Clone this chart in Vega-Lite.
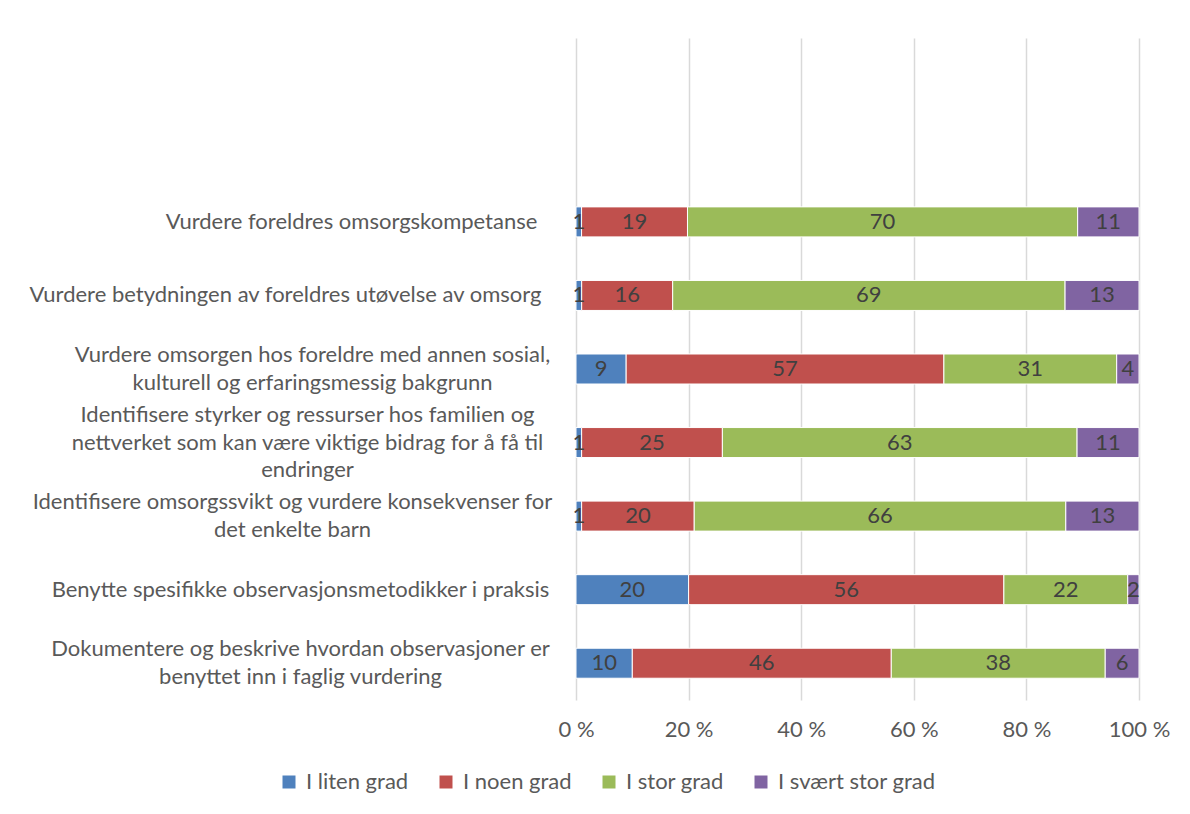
{
  "$schema": "https://vega.github.io/schema/vega-lite/v6.json",
  "autosize": {"type": "none"},
  "width": 563,
  "height": 662,
  "padding": {"left": 576, "top": 38, "right": 51, "bottom": 114},
  "background": "white",
  "config": {
    "view": {"stroke": null},
    "font": "Lato"
  },
  "data": {
    "values": [
      {"cat": "Vurdere foreldres omsorgskompetanse", "series": "I liten grad", "k": 0, "value": 1},
      {"cat": "Vurdere foreldres omsorgskompetanse", "series": "I noen grad", "k": 1, "value": 19},
      {"cat": "Vurdere foreldres omsorgskompetanse", "series": "I stor grad", "k": 2, "value": 70},
      {"cat": "Vurdere foreldres omsorgskompetanse", "series": "I svært stor grad", "k": 3, "value": 11},
      {"cat": "Vurdere betydningen av foreldres utøvelse av omsorg", "series": "I liten grad", "k": 0, "value": 1},
      {"cat": "Vurdere betydningen av foreldres utøvelse av omsorg", "series": "I noen grad", "k": 1, "value": 16},
      {"cat": "Vurdere betydningen av foreldres utøvelse av omsorg", "series": "I stor grad", "k": 2, "value": 69},
      {"cat": "Vurdere betydningen av foreldres utøvelse av omsorg", "series": "I svært stor grad", "k": 3, "value": 13},
      {"cat": "Vurdere omsorgen hos foreldre med annen sosial,|kulturell og erfaringsmessig bakgrunn", "series": "I liten grad", "k": 0, "value": 9},
      {"cat": "Vurdere omsorgen hos foreldre med annen sosial,|kulturell og erfaringsmessig bakgrunn", "series": "I noen grad", "k": 1, "value": 57},
      {"cat": "Vurdere omsorgen hos foreldre med annen sosial,|kulturell og erfaringsmessig bakgrunn", "series": "I stor grad", "k": 2, "value": 31},
      {"cat": "Vurdere omsorgen hos foreldre med annen sosial,|kulturell og erfaringsmessig bakgrunn", "series": "I svært stor grad", "k": 3, "value": 4},
      {"cat": "Identifisere styrker og ressurser hos familien og|nettverket som kan være viktige bidrag for å få til|endringer", "series": "I liten grad", "k": 0, "value": 1},
      {"cat": "Identifisere styrker og ressurser hos familien og|nettverket som kan være viktige bidrag for å få til|endringer", "series": "I noen grad", "k": 1, "value": 25},
      {"cat": "Identifisere styrker og ressurser hos familien og|nettverket som kan være viktige bidrag for å få til|endringer", "series": "I stor grad", "k": 2, "value": 63},
      {"cat": "Identifisere styrker og ressurser hos familien og|nettverket som kan være viktige bidrag for å få til|endringer", "series": "I svært stor grad", "k": 3, "value": 11},
      {"cat": "Identifisere omsorgssvikt og vurdere konsekvenser for|det enkelte barn", "series": "I liten grad", "k": 0, "value": 1},
      {"cat": "Identifisere omsorgssvikt og vurdere konsekvenser for|det enkelte barn", "series": "I noen grad", "k": 1, "value": 20},
      {"cat": "Identifisere omsorgssvikt og vurdere konsekvenser for|det enkelte barn", "series": "I stor grad", "k": 2, "value": 66},
      {"cat": "Identifisere omsorgssvikt og vurdere konsekvenser for|det enkelte barn", "series": "I svært stor grad", "k": 3, "value": 13},
      {"cat": "Benytte spesifikke observasjonsmetodikker i praksis", "series": "I liten grad", "k": 0, "value": 20},
      {"cat": "Benytte spesifikke observasjonsmetodikker i praksis", "series": "I noen grad", "k": 1, "value": 56},
      {"cat": "Benytte spesifikke observasjonsmetodikker i praksis", "series": "I stor grad", "k": 2, "value": 22},
      {"cat": "Benytte spesifikke observasjonsmetodikker i praksis", "series": "I svært stor grad", "k": 3, "value": 2},
      {"cat": "Dokumentere og beskrive hvordan observasjoner er|benyttet inn i faglig vurdering", "series": "I liten grad", "k": 0, "value": 10},
      {"cat": "Dokumentere og beskrive hvordan observasjoner er|benyttet inn i faglig vurdering", "series": "I noen grad", "k": 1, "value": 46},
      {"cat": "Dokumentere og beskrive hvordan observasjoner er|benyttet inn i faglig vurdering", "series": "I stor grad", "k": 2, "value": 38},
      {"cat": "Dokumentere og beskrive hvordan observasjoner er|benyttet inn i faglig vurdering", "series": "I svært stor grad", "k": 3, "value": 6}
    ]
  },
  "encoding": {
    "y": {
      "field": "cat",
      "type": "nominal",
      "title": null,
      "scale": {
        "domain": [
          "_a", "_b",
          "Vurdere foreldres omsorgskompetanse",
          "Vurdere betydningen av foreldres utøvelse av omsorg",
          "Vurdere omsorgen hos foreldre med annen sosial,|kulturell og erfaringsmessig bakgrunn",
          "Identifisere styrker og ressurser hos familien og|nettverket som kan være viktige bidrag for å få til|endringer",
          "Identifisere omsorgssvikt og vurdere konsekvenser for|det enkelte barn",
          "Benytte spesifikke observasjonsmetodikker i praksis",
          "Dokumentere og beskrive hvordan observasjoner er|benyttet inn i faglig vurdering"
        ],
        "paddingInner": 0,
        "paddingOuter": 0
      },
      "axis": {
        "domain": false,
        "ticks": false,
        "labelPadding": {"signal": "indexof(datum.value, 'Vurdere foreldres') == 0 ? 225 : indexof(datum.value, 'Vurdere betydningen') == 0 ? 291 : indexof(datum.value, 'Vurdere omsorgen') == 0 ? 264 : indexof(datum.value, 'Identifisere styrker') == 0 ? 269 : indexof(datum.value, 'Identifisere omsorgssvikt') == 0 ? 284 : 276"},
        "labelOffset": {"signal": "-(length(split(datum.value, '|')) - 1) * 13.75"},
        "labelFontSize": 22,
        "labelColor": "#595959",
        "labelLineHeight": 27.5,
        "labelLimit": 0,
        "labelAlign": "center",
        "labelBaseline": "middle",
        "labelExpr": "indexof(datum.label, '_') == 0 ? '' : split(datum.label, '|')"
      }
    }
  },
  "layer": [
    {
      "mark": {"type": "bar", "height": 30, "stroke": "white", "strokeWidth": 1},
      "encoding": {
        "x": {
          "field": "value",
          "type": "quantitative",
          "stack": "normalize",
          "title": null,
          "scale": {"domain": [0, 1], "nice": false},
          "axis": {
            "values": [0, 0.2, 0.4, 0.6, 0.8, 1],
            "domain": false,
            "ticks": false,
            "grid": true,
            "gridColor": "#d9d9d9",
            "gridWidth": 1.5,
            "labelFlush": false,
            "labelPadding": 19,
            "labelFontSize": 22,
            "labelColor": "#595959",
            "labelExpr": "format(datum.value * 100, 'd') + ' %'"
          }
        },
        "color": {
          "field": "series",
          "type": "nominal",
          "scale": {
            "domain": ["I liten grad", "I noen grad", "I stor grad", "I svært stor grad"],
            "range": ["#4F81BD", "#C0504D", "#9BBB59", "#8064A2"]
          },
          "legend": {
            "title": null,
            "orient": "none",
            "direction": "horizontal",
            "legendX": -298,
            "legendY": 733,
            "symbolType": "square",
            "symbolSize": 169,
            "symbolStrokeWidth": 0,
            "labelFontSize": 22,
            "labelColor": "#595959",
            "labelOffset": 6,
            "columnPadding": 26
          }
        },
        "order": {"field": "k", "type": "quantitative"}
      }
    },
    {
      "mark": {"type": "text", "fontSize": 22, "color": "#404040", "baseline": "middle", "align": "center"},
      "encoding": {
        "x": {
          "field": "value",
          "type": "quantitative",
          "stack": "normalize",
          "bandPosition": 0.5
        },
        "text": {"field": "value", "type": "quantitative"},
        "order": {"field": "k", "type": "quantitative"}
      }
    }
  ]
}
